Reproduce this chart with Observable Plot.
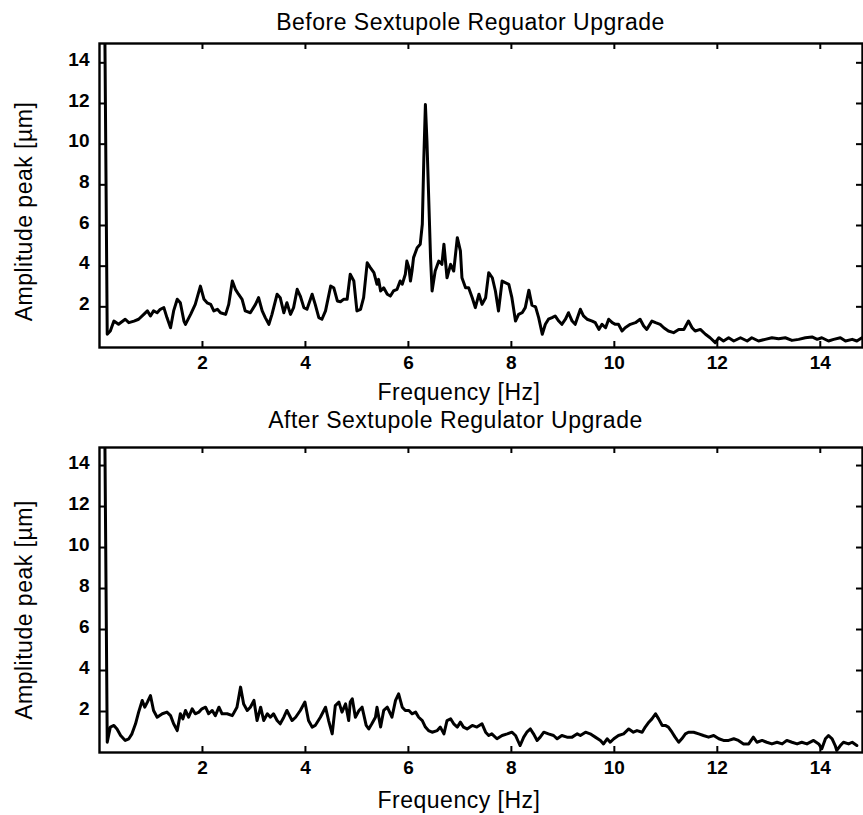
<!DOCTYPE html>
<html><head><meta charset="utf-8">
<script src="https://cdn.jsdelivr.net/npm/d3@7"></script>
<script src="https://cdn.jsdelivr.net/npm/@observablehq/plot@0.6"></script>
<style>
body{margin:0;background:#fff;}
#chart{width:863px;}
#chart svg{display:block;}
</style></head><body><div id="chart"></div>
<script>
const xTicks = [2, 4, 6, 8, 10, 12, 14];
const yTicks = [2, 4, 6, 8, 10, 12, 14];
const titles = ["Before Sextupole Reguator Upgrade", "After Sextupole Regulator Upgrade"];
const xLabel = "Frequency [Hz]";
const yLabel = "Amplitude peak [µm]";

const beforeFreq = [0.09,0.15,0.21,0.28,0.37,0.50,0.57,0.67,0.76,0.86,0.93,0.99,1.05,1.12,1.18,1.25,1.31,1.38,1.44,1.51,1.57,1.64,1.67,1.77,1.86,1.96,2.03,2.09,2.16,2.22,2.29,2.35,2.45,2.51,2.58,2.64,2.70,2.77,2.83,2.93,3.03,3.09,3.16,3.22,3.29,3.35,3.45,3.51,3.58,3.64,3.71,3.77,3.84,3.90,3.97,4.03,4.13,4.19,4.26,4.32,4.39,4.49,4.55,4.62,4.68,4.74,4.81,4.87,4.94,5.00,5.07,5.13,5.20,5.26,5.33,5.39,5.42,5.46,5.52,5.59,5.65,5.71,5.78,5.84,5.88,5.94,5.97,6.01,6.04,6.07,6.10,6.17,6.23,6.27,6.30,6.33,6.36,6.39,6.43,6.46,6.52,6.59,6.65,6.69,6.72,6.75,6.82,6.88,6.95,7.01,7.04,7.11,7.17,7.24,7.30,7.37,7.43,7.50,7.56,7.63,7.69,7.75,7.82,7.88,7.95,8.01,8.08,8.14,8.21,8.27,8.34,8.40,8.47,8.53,8.60,8.66,8.72,8.79,8.85,8.92,8.98,9.05,9.11,9.18,9.24,9.34,9.40,9.47,9.57,9.63,9.70,9.76,9.83,9.89,9.96,10.02,10.08,10.15,10.21,10.31,10.41,10.50,10.57,10.63,10.73,10.80,10.89,10.96,11.05,11.15,11.25,11.35,11.44,11.51,11.57,11.67,11.77,11.86,11.96,12.03,12.12,12.22,12.32,12.45,12.58,12.67,12.80,12.93,13.06,13.19,13.32,13.45,13.58,13.71,13.84,13.94,14.03,14.16,14.26,14.39,14.49,14.62,14.71,14.81];
const beforeAmp = [20,0.65,0.81,1.30,1.14,1.39,1.22,1.30,1.39,1.63,1.80,1.55,1.80,1.71,1.88,1.96,1.47,0.97,1.80,2.37,2.20,1.30,1.14,1.63,2.12,3.02,2.37,2.20,2.12,1.80,1.88,1.71,1.63,2.12,3.27,2.86,2.62,2.37,1.80,1.71,2.12,2.45,1.80,1.47,1.14,1.63,2.62,2.45,1.71,2.20,1.63,1.96,2.86,2.53,1.96,1.88,2.62,2.12,1.47,1.39,1.80,3.02,2.94,2.29,2.25,2.37,2.37,3.60,3.27,1.80,1.88,2.45,4.17,3.93,3.68,3.11,3.35,2.78,2.94,2.62,2.53,2.78,2.86,3.27,3.11,3.60,4.25,3.93,3.27,3.76,4.42,4.91,5.08,6.06,9.34,11.95,10.16,7.70,4.42,2.78,3.76,4.25,4.09,5.08,4.25,3.43,4.09,3.76,5.40,4.75,3.43,2.94,2.94,2.45,1.96,2.62,2.12,2.45,3.68,3.43,2.78,1.80,3.27,3.19,3.11,2.45,1.30,1.63,1.71,1.96,2.82,2.08,2.00,1.47,0.65,1.14,1.39,1.47,1.55,1.30,1.14,1.39,1.71,1.30,1.14,1.88,1.55,1.39,1.30,1.22,0.89,1.14,0.97,1.39,1.22,1.14,1.14,0.81,0.97,1.14,1.22,1.39,1.06,0.89,1.30,1.22,1.14,0.97,0.81,0.73,0.89,0.89,1.30,0.97,0.81,0.89,0.65,0.48,0.24,0.48,0.32,0.48,0.32,0.48,0.32,0.48,0.32,0.40,0.48,0.43,0.48,0.35,0.40,0.48,0.52,0.40,0.48,0.32,0.40,0.48,0.32,0.40,0.32,0.48];

const afterFreq = [0.09,0.15,0.21,0.28,0.34,0.41,0.50,0.57,0.63,0.70,0.76,0.83,0.88,0.93,0.99,1.05,1.12,1.22,1.31,1.38,1.44,1.51,1.57,1.62,1.67,1.73,1.80,1.86,1.93,1.99,2.06,2.12,2.19,2.25,2.32,2.38,2.48,2.58,2.67,2.74,2.80,2.87,2.93,3.00,3.06,3.13,3.19,3.26,3.32,3.38,3.45,3.51,3.58,3.64,3.74,3.81,3.90,3.99,4.06,4.13,4.19,4.29,4.39,4.45,4.52,4.58,4.65,4.71,4.78,4.84,4.87,4.91,4.97,5.04,5.10,5.18,5.23,5.29,5.36,5.39,5.46,5.52,5.59,5.65,5.68,5.75,5.81,5.88,5.94,6.01,6.07,6.14,6.20,6.27,6.33,6.39,6.46,6.56,6.62,6.69,6.75,6.82,6.88,6.95,7.01,7.07,7.14,7.24,7.33,7.43,7.50,7.56,7.62,7.72,7.82,7.92,8.01,8.08,8.14,8.17,8.24,8.30,8.37,8.43,8.50,8.56,8.63,8.72,8.82,8.89,8.98,9.08,9.18,9.28,9.34,9.44,9.53,9.63,9.73,9.79,9.86,9.92,9.99,10.08,10.18,10.28,10.37,10.44,10.54,10.60,10.67,10.73,10.80,10.86,10.93,10.99,11.05,11.12,11.18,11.25,11.31,11.38,11.44,11.54,11.64,11.73,11.83,11.93,12.03,12.12,12.22,12.32,12.41,12.51,12.61,12.70,12.77,12.87,12.96,13.06,13.16,13.26,13.35,13.45,13.55,13.64,13.74,13.87,13.97,14.03,14.10,14.16,14.23,14.29,14.32,14.39,14.45,14.55,14.62,14.71];
const afterAmp = [20,0.50,1.24,1.32,1.15,0.83,0.59,0.67,0.91,1.40,1.97,2.54,2.21,2.46,2.78,2.05,1.72,1.89,1.97,1.80,1.40,1.07,1.89,1.64,2.05,1.72,2.13,1.89,1.97,2.13,2.21,1.89,2.05,1.80,2.21,1.89,1.89,1.80,2.21,3.19,2.37,2.05,2.21,2.54,1.56,2.21,1.56,1.89,1.72,1.89,1.56,1.40,1.72,2.05,1.56,1.72,2.05,2.46,1.56,1.24,1.32,1.72,2.21,1.56,0.91,2.29,2.46,1.97,2.37,1.56,2.46,2.62,1.72,2.05,2.21,1.32,1.15,1.40,1.72,2.21,1.24,2.05,2.21,1.89,1.72,2.54,2.86,2.21,2.05,2.05,1.89,1.97,1.72,1.56,1.24,1.07,0.99,1.07,1.24,0.91,1.56,1.64,1.40,1.24,1.48,1.24,1.15,1.32,1.24,1.40,0.99,0.83,0.91,0.67,0.83,0.91,0.99,0.83,0.50,0.34,0.75,0.99,1.15,0.91,0.59,0.75,0.99,0.91,0.83,0.67,0.83,0.75,0.75,0.91,0.83,0.99,0.91,0.75,0.59,0.42,0.67,0.50,0.67,0.83,0.91,1.15,0.99,1.07,0.99,1.24,1.48,1.64,1.89,1.64,1.32,1.32,1.24,0.99,0.75,0.50,0.67,0.91,0.99,0.99,0.91,0.83,0.75,0.83,0.67,0.59,0.59,0.67,0.59,0.42,0.42,0.75,0.50,0.59,0.50,0.42,0.50,0.42,0.59,0.50,0.42,0.50,0.42,0.59,0.42,0.18,0.67,0.83,0.67,0.34,0.10,0.34,0.50,0.42,0.50,0.34];

const FONT = "'Liberation Sans', Arial, Helvetica, sans-serif";

function panel({freq, amp, title, height, mt, mb, yMax, titleDx, titleDy, xlDy, ylDy}) {
  const W = 863, ml = 99, mr = 1;
  const pw = W - ml - mr, ph = height - mt - mb;
  const data = freq.map((f, i) => ({f, a: amp[i]}));
  const tick = {stroke: "#000", strokeWidth: 2};
  const svg = Plot.plot({
    width: W, height, marginTop: mt, marginBottom: mb, marginLeft: ml, marginRight: mr,
    x: {domain: [0, 14.82]},
    y: {domain: [0, yMax]},
    style: {fontFamily: FONT, color: "#000", background: "#fff", overflow: "visible"},
    marks: [
      Plot.line(data, {x: "f", y: "a", stroke: "#000", strokeWidth: 3, clip: true, strokeLinejoin: "round"}),
      Plot.frame({stroke: "#000", strokeWidth: 2.4}),
      Plot.tickX(xTicks, {x: d => d, insetTop: ph - 6, ...tick}),
      Plot.tickX(xTicks, {x: d => d, insetBottom: ph - 6, ...tick}),
      Plot.tickY(yTicks, {y: d => d, insetRight: pw - 7, ...tick}),
      Plot.tickY(yTicks, {y: d => d, insetLeft: pw - 6, ...tick}),
      Plot.axisX(xTicks, {tickSize: 0, tickPadding: 8, fontSize: 19, fontWeight: "bold", label: null}),
      Plot.axisY(yTicks, {tickSize: 0, tickPadding: 10, dy: -3, fontSize: 19, fontWeight: "bold", label: null}),
      Plot.text([title], {frameAnchor: "top", lineAnchor: "middle", text: d => d, dx: titleDx, dy: titleDy, fontSize: 23}),
      Plot.text([xLabel], {frameAnchor: "bottom", lineAnchor: "middle", text: d => d, dx: -22, dy: xlDy, fontSize: 23}),
      Plot.text([yLabel], {frameAnchor: "left", textAnchor: "middle", lineAnchor: "middle", text: d => d, rotate: -90, dx: -75, dy: ylDy, fontSize: 23})
    ]
  });
  svg.querySelectorAll('g[aria-label="text"] text').forEach(t => t.style.letterSpacing = "0.5px");
  return svg;
}

const chart = document.getElementById("chart");
chart.appendChild(panel({freq: beforeFreq, amp: beforeAmp, title: titles[0], height: 405, mt: 43, mb: 58, yMax: 14.95, titleDx: -10.5, titleDy: -21, xlDy: 45, ylDy: 16}));
chart.appendChild(panel({freq: afterFreq, amp: afterAmp, title: titles[1], height: 410, mt: 42, mb: 63, yMax: 14.88, titleDx: -25.5, titleDy: -27, xlDy: 48, ylDy: 10}));
</script>
</body></html>
